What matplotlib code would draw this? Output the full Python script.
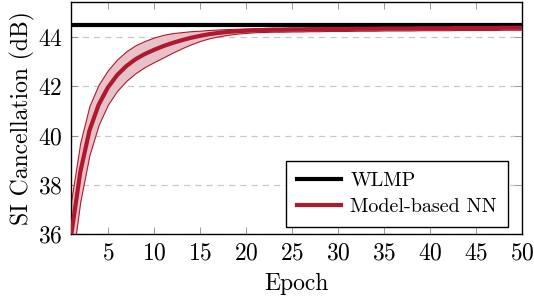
import numpy as np
import matplotlib
matplotlib.use("Agg")
import matplotlib.pyplot as plt

plt.rcParams['font.family'] = ['cmr10', 'DejaVu Serif']
plt.rcParams['mathtext.fontset'] = 'cm'
plt.rcParams['axes.formatter.use_mathtext'] = True

# data
epochs = np.arange(1, 51)
nn_mean = [35.9, 38.5, 40.2, 41.25, 41.95, 42.45, 42.82, 43.1, 43.31, 43.48,
           43.63, 43.76, 43.87, 43.97, 44.05, 44.12, 44.17, 44.21, 44.24, 44.26,
           44.28, 44.29, 44.3, 44.3, 44.31, 44.31, 44.32, 44.32, 44.33, 44.33,
           44.33, 44.34, 44.34, 44.34, 44.35, 44.35, 44.35, 44.35, 44.36, 44.36,
           44.36, 44.36, 44.37, 44.37, 44.37, 44.37, 44.37, 44.38, 44.38, 44.38]
nn_spread = [1.4, 1.2, 1.0, 0.82, 0.7, 0.64, 0.6, 0.57, 0.53, 0.5,
             0.46, 0.4, 0.33, 0.27, 0.21, 0.17, 0.14, 0.12, 0.1, 0.09,
             0.08, 0.08, 0.08, 0.08, 0.08, 0.08, 0.08, 0.08, 0.08, 0.08,
             0.08, 0.08, 0.08, 0.08, 0.08, 0.08, 0.08, 0.08, 0.08, 0.08,
             0.08, 0.08, 0.08, 0.08, 0.08, 0.08, 0.08, 0.08, 0.08, 0.08]
wlmp = 44.5

red = '#B0182E'
nn_mean = np.array(nn_mean)
nn_spread = np.array(nn_spread)

fig = plt.figure(figsize=(5.34, 2.98), dpi=100)
ax = fig.add_axes([0.133, 0.215, 0.8445, 0.7785])

ax.fill_between(epochs, nn_mean - nn_spread, nn_mean + nn_spread,
                facecolor='#E8C2C9', edgecolor=red, linewidth=0.8, zorder=2)
ax.plot([1, 50], [wlmp, wlmp], color='black', lw=3, label='WLMP', zorder=3)
ax.plot(epochs, nn_mean, color=red, lw=3, label='Model-based NN', zorder=3)

ax.set_xlim(1, 50)
ax.set_ylim(36, 45.43)
ax.set_xticks(np.arange(5, 51, 5))
ax.set_yticks(np.arange(36, 45, 2))
ax.yaxis.grid(True, linestyle=(0, (5, 4)), color='#c8c8c8', lw=0.9)
ax.set_axisbelow(True)
ax.tick_params(direction='in', top=True, right=True, labelsize=17,
               length=5, width=0.6, color='#888888', pad=6)
for s in ax.spines.values():
    s.set_linewidth(1.0)

ax.set_xlabel('Epoch', fontsize=17, labelpad=6)
ax.set_ylabel('SI Cancellation (dB)', fontsize=17, labelpad=2)

leg = ax.legend(loc='lower right', bbox_to_anchor=(0.969, 0.03), borderaxespad=0,
                fontsize=14.5, fancybox=False, framealpha=1, edgecolor='black',
                handlelength=2.2, handletextpad=0.45, borderpad=0.55,
                labelspacing=0.4)
leg.get_frame().set_linewidth(1.0)

fig.savefig('out.png', dpi=100)
